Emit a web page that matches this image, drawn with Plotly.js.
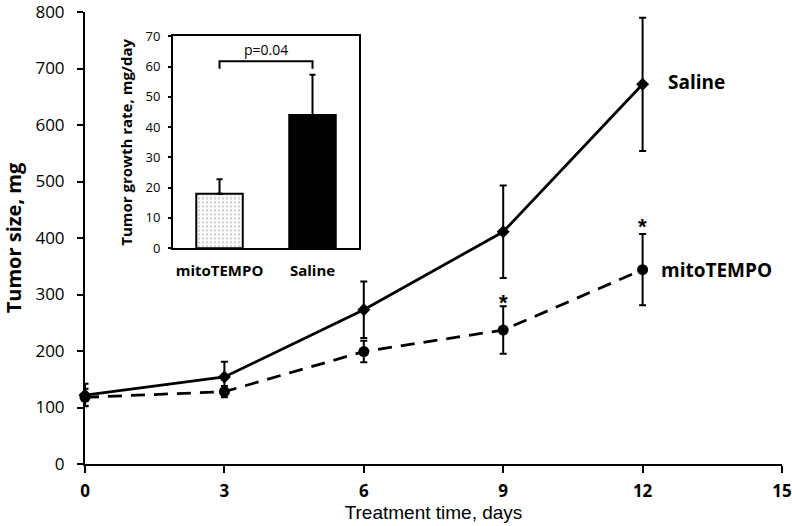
<!DOCTYPE html>
<html><head><meta charset="utf-8">
<script src="https://cdn.plot.ly/plotly-3.0.1.min.js"></script>
<style>html,body{margin:0;padding:0;background:#fff}</style>
</head><body>
<div id="chart" style="width:792px;height:526px"></div>
<script>
// Main chart data
const days = [0, 3, 6, 9, 12];
const salineSize = [122, 154, 273, 411, 672];
const salineErr = [20, 27, 50, 82, 118];
const mitoSize = [118, 128, 199, 237, 344];
const mitoErr = [15, 10, 19, 42, 63];
const xTicks = [0, 3, 6, 9, 12, 15];
const yTicks = [0, 100, 200, 300, 400, 500, 600, 700, 800];
// Inset data
const insetGroups = ['mitoTEMPO', 'Saline'];
const insetRate = [18, 44];
const insetErr = [4.8, 13.3];
const insetTicks = [0, 10, 20, 30, 40, 50, 60, 70];
const pText = 'p=0.04';
const sigDays = [9, 12];

const OS = '"Open Sans", Lato, sans-serif';
const LS = '"Liberation Sans", Arial, sans-serif';

const traces = [
  {
    x: days, y: salineSize, type: 'scatter', mode: 'lines+markers', name: 'Saline',
    line: {color: '#000', width: 2.8},
    marker: {symbol: 'diamond', size: 10, color: '#000'},
    error_y: {type: 'data', array: salineErr, visible: true, color: '#000', thickness: 2, width: 3.5},
    cliponaxis: false, xaxis: 'x', yaxis: 'y'
  },
  {
    x: days, y: mitoSize, type: 'scatter', mode: 'lines+markers', name: 'mitoTEMPO',
    line: {color: '#000', width: 2.8, dash: '14px,9px'},
    marker: {symbol: 'circle', size: 11, color: '#000'},
    error_y: {type: 'data', array: mitoErr, visible: true, color: '#000', thickness: 2, width: 3.5},
    cliponaxis: false, xaxis: 'x', yaxis: 'y'
  },
  {
    x: insetGroups, y: insetRate, type: 'bar', name: 'rate',
    marker: {
      color: ['#cfcfcf', '#000'],
      line: {color: '#000', width: 2},
      pattern: {shape: ['.', ''], fgcolor: '#a9a9a9', bgcolor: '#d2d2d2', size: 4, solidity: 0.3}
    },
    width: 0.5,
    error_y: {type: 'data', symmetric: false, array: insetErr, arrayminus: [0, 0], visible: true, color: '#000', thickness: 2, width: 3},
    xaxis: 'x2', yaxis: 'y2'
  }
];

const annotations = [
  {x: 12.5, y: 676, xref: 'x', yref: 'y', text: '<b>Saline</b>', showarrow: false, xanchor: 'left', yanchor: 'middle', font: {family: OS, size: 19, color: '#000'}},
  {x: 12.35, y: 344, xref: 'x', yref: 'y', text: '<b>mitoTEMPO</b>', showarrow: false, xanchor: 'left', yanchor: 'middle', font: {family: OS, size: 19, color: '#000'}},
  {x: sigDays[0], y: 285, xref: 'x', yref: 'y', text: '<b>*</b>', showarrow: false, xanchor: 'center', yanchor: 'middle', font: {family: LS, size: 22, color: '#000'}},
  {x: sigDays[1], y: 421, xref: 'x', yref: 'y', text: '<b>*</b>', showarrow: false, xanchor: 'center', yanchor: 'middle', font: {family: LS, size: 22, color: '#000'}},
  {x: 0.5, y: 65.7, xref: 'x2', yref: 'y2', text: pText, showarrow: false, xanchor: 'center', yanchor: 'middle', font: {family: OS, size: 14, color: '#000'}}
];

const shapes = [
  {type: 'path', xref: 'x2', yref: 'y2', path: 'M 0,59.3 L 0,61.8 L 1,61.8 L 1,59.3', line: {color: '#000', width: 2}}
];

const layout = {
  width: 792, height: 526,
  margin: {l: 85, r: 10, t: 12, b: 62},
  paper_bgcolor: '#fff', plot_bgcolor: 'rgba(0,0,0,0)',
  showlegend: false,
  font: {family: OS, color: '#000'},
  xaxis: {
    range: [0, 15], tickvals: xTicks, ticktext: xTicks.map(v => '<b>' + v + '</b>'),
    showgrid: false, zeroline: false, showline: true, linecolor: '#000', linewidth: 2,
    ticks: 'outside', ticklen: 7, tickwidth: 2, tickcolor: '#000', ticklabelstandoff: 4,
    tickfont: {family: OS, size: 17, color: '#000'},
    title: {text: 'Treatment time, days', font: {family: LS, size: 19, color: '#000'}, standoff: 4},
    automargin: false, ticklabeloverflow: 'allow'
  },
  yaxis: {
    range: [0, 800], tickvals: yTicks,
    showgrid: false, zeroline: false, showline: true, linecolor: '#000', linewidth: 2,
    ticks: 'outside', ticklen: 6, tickwidth: 2, tickcolor: '#000', ticklabelstandoff: 9,
    tickfont: {family: OS, size: 17, color: '#000'},
    title: {text: '<b>Tumor size, mg</b>', font: {family: OS, size: 20, color: '#000'}, standoff: 18},
    automargin: false, ticklabeloverflow: 'allow'
  },
  xaxis2: {
    domain: [0.1263, 0.3931], anchor: 'y2', type: 'category', range: [-0.5, 1.5],
    tickvals: insetGroups, ticktext: insetGroups.map(v => '<b>' + v + '</b>'),
    showgrid: false, zeroline: false, showline: true, mirror: true, linecolor: '#000', linewidth: 2,
    ticks: '', ticklabelstandoff: 8, tickfont: {family: OS, size: 15, color: '#000'}
  },
  yaxis2: {
    domain: [0.4775, 0.946], anchor: 'x2', range: [0, 70], tickvals: insetTicks,
    showgrid: false, zeroline: false, showline: true, mirror: true, linecolor: '#000', linewidth: 2,
    ticks: 'outside', ticklen: 3, tickwidth: 2, tickcolor: '#000', ticklabelstandoff: 5,
    tickfont: {family: OS, size: 13, color: '#000'},
    title: {text: '<b>Tumor growth rate, mg/day</b>', font: {family: OS, size: 15, color: '#000'}, standoff: 9}
  },
  annotations: annotations,
  shapes: shapes
};

Plotly.newPlot('chart', traces, layout, {displayModeBar: false, staticPlot: true});
</script>
</body></html>
